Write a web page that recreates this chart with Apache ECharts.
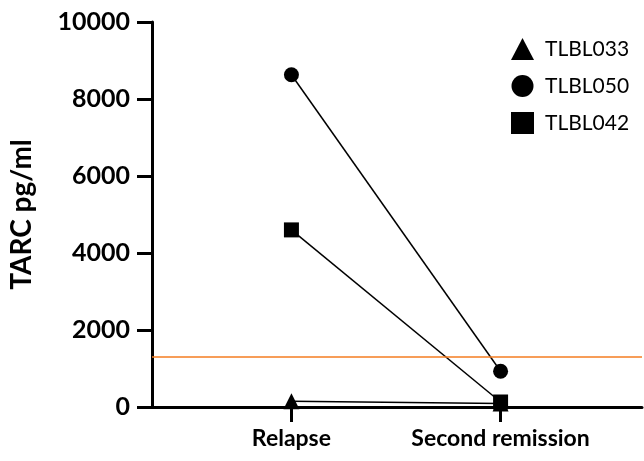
<!DOCTYPE html>
<html>
<head>
<meta charset="utf-8">
<script src="https://cdn.jsdelivr.net/npm/echarts@6/dist/echarts.min.js"></script>
<style>
  html, body { margin: 0; padding: 0; background: #fff; }
  #main { width: 644px; height: 461px; }
</style>
</head>
<body>
<div id="main"></div>
<script>
var timepoints = [1, 2];
var timeLabels = ['Relapse', 'Second remission'];
var patients = ['TLBL033', 'TLBL050', 'TLBL042'];
var symbols = ['triangle', 'circle', 'rect'];
var tlbl033 = [150, 90];
var tlbl050 = [8630, 930];
var tlbl042 = [4600, 130];
var cutoff = 1300;

var values = [tlbl033, tlbl050, tlbl042];
var font = 'Lato, "Open Sans", sans-serif';

var chartDom = document.getElementById('main');
var myChart = echarts.init(chartDom);
var option;

option = {
  animation: false,
  grid: { left: 150, right: 2, top: 22, bottom: 54 },
  legend: {
    orient: 'vertical',
    left: 506,
    top: 33,
    itemWidth: 23,
    itemHeight: 22,
    itemGap: 15,
    textStyle: { fontSize: 21, fontFamily: font, color: '#000', padding: [0, 0, 0, 6] },
    data: patients.map(function (p, i) {
      return { name: p, icon: symbols[i], itemStyle: { color: '#000' } };
    })
  },
  xAxis: {
    type: 'value',
    min: 1 - 140 / 210,
    max: 2 + 142 / 210,
    splitLine: { show: false },
    axisLine: { lineStyle: { color: '#000', width: 3 } },
    axisTick: { customValues: timepoints, length: 15, lineStyle: { color: '#000', width: 3 } },
    axisLabel: {
      customValues: timepoints,
      formatter: function (v) { return timeLabels[timepoints.indexOf(v)]; },
      margin: 20,
      fontSize: 23,
      fontWeight: 'bold',
      fontFamily: font,
      color: '#000'
    }
  },
  yAxis: {
    type: 'value',
    min: 0,
    max: 10000,
    interval: 2000,
    name: 'TARC pg/ml',
    nameLocation: 'middle',
    nameGap: 116,
    nameTextStyle: { fontSize: 28, fontWeight: 'bold', fontFamily: font, color: '#000' },
    splitLine: { show: false },
    axisLine: { show: true, lineStyle: { color: '#000', width: 3 } },
    axisTick: { show: true, length: 15, lineStyle: { color: '#000', width: 3 } },
    axisLabel: {
      margin: 22,
      fontSize: 25,
      fontWeight: 'bold',
      fontFamily: font,
      color: '#000',
      formatter: function (v) { return String(v); }
    }
  },
  series: patients.map(function (p, i) {
    var s = {
      name: p,
      type: 'line',
      data: timepoints.map(function (t, j) { return [t, values[i][j]]; }),
      symbol: symbols[i],
      symbolSize: i === 0 ? 16 : 15,
      itemStyle: { color: '#000' },
      lineStyle: { color: '#000', width: 1.5 },
      z: 3
    };
    if (i === 0) {
      s.markLine = {
        silent: true,
        symbol: 'none',
        label: { show: false },
        lineStyle: { color: '#F47C20', width: 1.5, type: 'solid' },
        data: [{ yAxis: cutoff }]
      };
    }
    return s;
  })
};

option && myChart.setOption(option);
</script>
</body>
</html>
